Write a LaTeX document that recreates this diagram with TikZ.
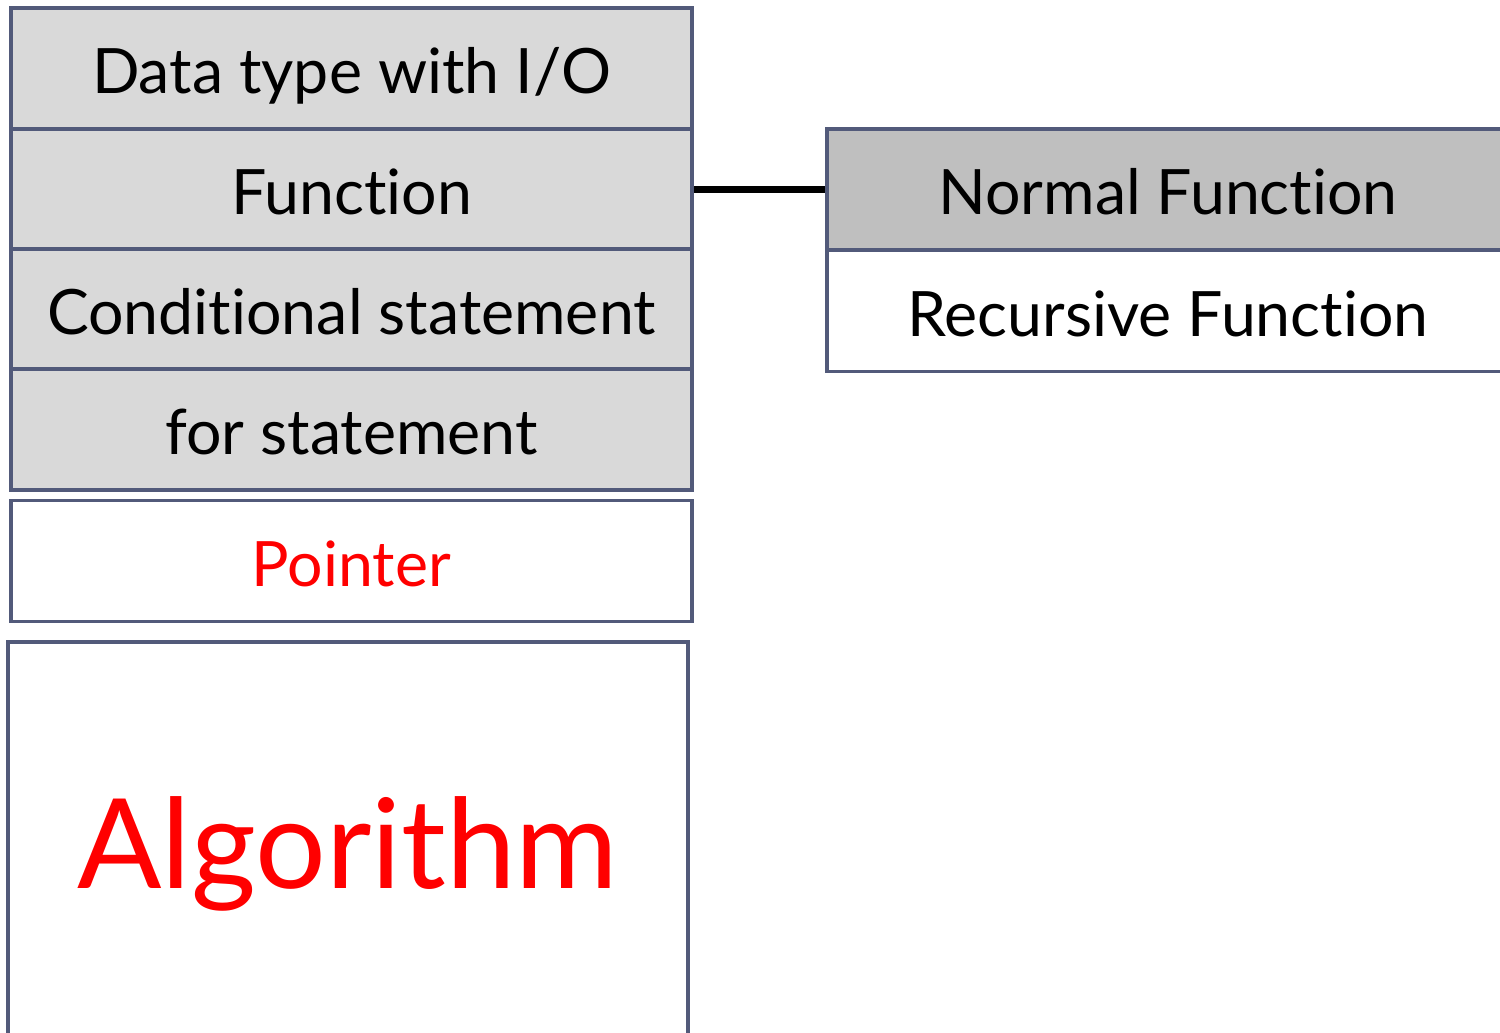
\documentclass[tikz,border=0pt]{standalone}
\usepackage{fontspec}
\setmainfont{Lato}[Ligatures={NoCommon,NoContextual}]
\usetikzlibrary{positioning}
\definecolor{edgeblue}{HTML}{525A7A}
\definecolor{lightgrey}{HTML}{D9D9D9}
\definecolor{midgrey}{HTML}{BFBFBF}

\begin{document}
\begin{tikzpicture}[x=0.01cm,y=-0.01cm,
  cell/.style={draw=edgeblue,line width=1.1pt,rectangle,inner sep=0pt,
    minimum width=6.81cm,minimum height=1.21cm,text height=0.6cm,text depth=0.1cm,
    font=\fontsize{17.8}{21}\selectfont},
  topic/.style={cell,fill=lightgrey}]
\useasboundingbox (0,0) rectangle (1500,1032);
\clip (0,0) rectangle (1500,1032);
% Left stack
\node[topic] (io) at (351.5,68.5) {Data type with I/O};
\node[topic] (fn) at (351.5,189.5) {Function};
\node[topic] (cond) at (351.5,309.5) {Conditional statement};
\node[topic] (loop) at (351.5,429.5) {for statement};
\node[cell,text=red] (ptr) at (351.5,561) {Pointer};
\node[cell,minimum width=6.8cm,minimum height=5cm] (algo) at (348,892) {};
\node[text=red,anchor=base,font=\fontsize{35.5}{42}\selectfont] (algotxt) at (348,888) {Algorithm};

% Kinds of function
\node[cell,fill=midgrey] (normal) at (1168,189.5) {Normal Function};
\node[cell] (rec) at (1168,311) {Recursive Function};
\draw[line width=2pt] (fn.east) -- (normal.west);
\end{tikzpicture}
\end{document}
